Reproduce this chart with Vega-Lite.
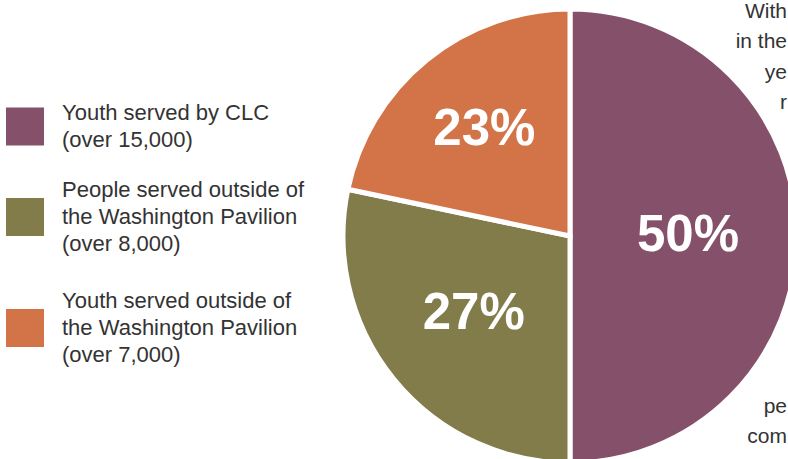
{
  "$schema": "https://vega.github.io/schema/vega-lite/v6.json",
  "width": 454,
  "height": 454,
  "autosize": {"type": "none"},
  "padding": {"left": 343, "top": 9, "right": -9, "bottom": -4},
  "background": "white",
  "config": {
    "view": {"stroke": null},
    "style": {"guide-label": {"lineHeight": 27}},
    "legend": {
      "orient": "none",
      "title": null,
      "padding": 0,
      "symbolSize": 1444,
      "symbolStrokeWidth": 0,
      "symbolOpacity": 1,
      "labelFont": "Liberation Sans",
      "labelFontSize": 22,
      "labelColor": "#333333",
      "labelOffset": 18,
      "labelLimit": 400
    }
  },
  "datasets": {
    "pie": [
      {"segment": "Youth served by CLC|(over 15,000)", "rank": 1, "share": 50, "label": "50%"},
      {"segment": "People served outside of|the Washington Pavilion|(over 8,000)", "rank": 2, "share": 28.3, "label": "27%"},
      {"segment": "Youth served outside of|the Washington Pavilion|(over 7,000)", "rank": 3, "share": 21.7, "label": "23%"}
    ],
    "aside": [
      {"text": "With", "line": 0},
      {"text": "in the", "line": 1},
      {"text": "ye", "line": 2},
      {"text": "r", "line": 3},
      {"text": "pe", "line": 13},
      {"text": "com", "line": 14}
    ]
  },
  "layer": [
    {
      "data": {"name": "aside"},
      "mark": {"type": "text", "align": "right", "baseline": "alphabetic", "x": "width", "dx": -10, "font": "Liberation Sans", "fontSize": 21, "color": "#333333"},
      "encoding": {
        "y": {"field": "line", "type": "quantitative", "scale": {"domain": [0, 14], "range": [9, 434]}, "axis": null},
        "text": {"field": "text", "type": "nominal"}
      }
    },
    {
      "data": {"name": "pie"},
      "encoding": {
        "theta": {"field": "share", "type": "quantitative", "stack": true},
        "order": {"field": "rank", "type": "quantitative"}
      },
      "layer": [
        {
          "mark": {"type": "arc", "stroke": "white", "strokeWidth": 5},
          "encoding": {
            "fill": {
              "field": "segment",
              "type": "nominal",
              "scale": {
                "domain": ["People served outside of|the Washington Pavilion|(over 8,000)", "Youth served outside of|the Washington Pavilion|(over 7,000)", "Youth served by CLC|(over 15,000)"],
                "range": ["#827b4a", "#d37448", "#85506a"]
              },
              "legend": {
                "values": ["People served outside of|the Washington Pavilion|(over 8,000)", "Youth served outside of|the Washington Pavilion|(over 7,000)"],
                "legendX": -337,
                "legendY": 162,
                "symbolType": "M-1,0.4211H1V2.4211H-1Z",
                "labelExpr": "split(datum.label, '|')",
                "rowPadding": 27
              }
            }
          }
        },
        {
          "mark": {"type": "arc", "stroke": "white", "strokeWidth": 5},
          "encoding": {
            "color": {
              "field": "segment",
              "type": "nominal",
              "scale": {
                "domain": ["Youth served by CLC|(over 15,000)", "People served outside of|the Washington Pavilion|(over 8,000)", "Youth served outside of|the Washington Pavilion|(over 7,000)"],
                "range": ["#85506a", "#827b4a", "#d37448"]
              },
              "legend": {
                "values": ["Youth served by CLC|(over 15,000)"],
                "legendX": -337,
                "legendY": 85,
                "symbolType": "M-1,-0.2895H1V1.7105H-1Z",
                "labelExpr": "split(datum.label, '|')"
              }
            }
          }
        },
        {
          "mark": {"type": "text", "radius": 136, "font": "Liberation Sans", "fontWeight": "bold", "fontSize": 51, "color": "white"},
          "encoding": {
            "detail": {"field": "segment", "type": "nominal"},
            "text": {"condition": {"test": "datum.label == '23%'", "field": "label", "type": "nominal"}, "value": ""}
          }
        },
        {
          "mark": {"type": "text", "radius": 124, "font": "Liberation Sans", "fontWeight": "bold", "fontSize": 51, "color": "white"},
          "encoding": {
            "detail": {"field": "segment", "type": "nominal"},
            "text": {"condition": {"test": "datum.label == '27%'", "field": "label", "type": "nominal"}, "value": ""}
          }
        },
        {
          "mark": {"type": "text", "radius": 118, "font": "Liberation Sans", "fontWeight": "bold", "fontSize": 51, "color": "white"},
          "encoding": {
            "detail": {"field": "segment", "type": "nominal"},
            "text": {"condition": {"test": "datum.label == '50%'", "field": "label", "type": "nominal"}, "value": ""}
          }
        }
      ]
    }
  ]
}
